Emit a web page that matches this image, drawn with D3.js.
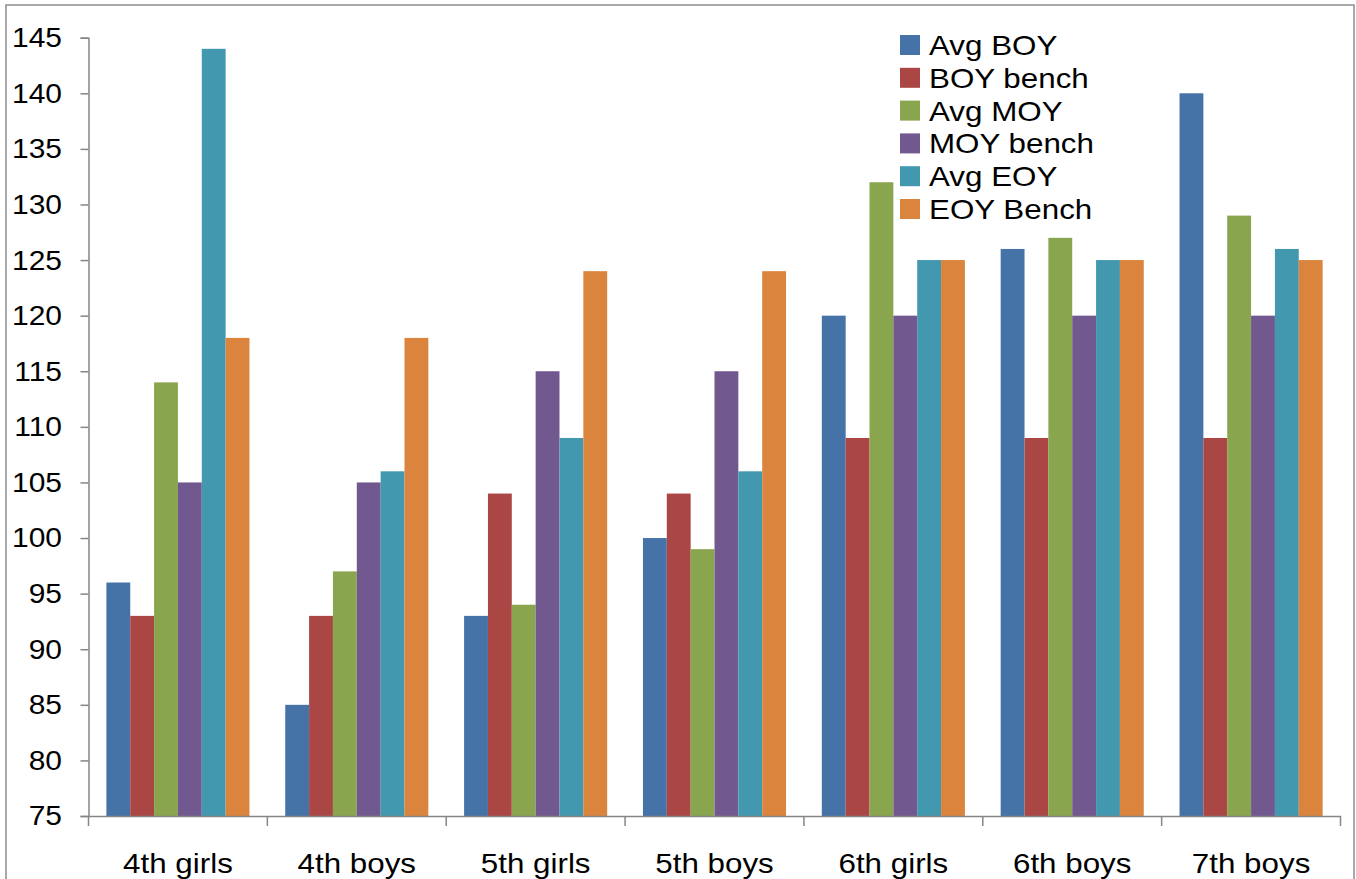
<!DOCTYPE html>
<html>
<head>
<meta charset="utf-8">
<script src="https://cdn.jsdelivr.net/npm/d3@7"></script>
<style>
  body { margin: 0; background: #fff; }
  svg { display: block; font-family: "Liberation Sans", Arial, sans-serif; }
</style>
</head>
<body>
<div id="chart"></div>
<script>
// chart data
const categories = ["4th girls", "4th boys", "5th girls", "5th boys", "6th girls", "6th boys", "7th boys"];
const seriesNames = ["Avg BOY", "BOY bench", "Avg MOY", "MOY bench", "Avg EOY", "EOY Bench"];
const avgBOY   = [96, 85, 93, 100, 120, 126, 140];
const boyBench = [93, 93, 104, 104, 109, 109, 109];
const avgMOY   = [114, 97, 94, 99, 132, 127, 129];
const moyBench = [105, 105, 115, 115, 120, 120, 120];
const avgEOY   = [144, 106, 109, 106, 125, 125, 126];
const eoyBench = [118, 118, 124, 124, 125, 125, 125];
const yTicks = [75, 80, 85, 90, 95, 100, 105, 110, 115, 120, 125, 130, 135, 140, 145];

const colors = ["#4572A7", "#AA4643", "#89A54E", "#71588F", "#4198AF", "#DB843D"];
const seriesValues = [avgBOY, boyBench, avgMOY, moyBench, avgEOY, eoyBench];

const W = 1356, H = 879;
const plot = {left: 88.5, right: 1340.5, top: 37.7, bottom: 816};
const fontSize = "28px";
const stretch = 1.12;      // the text in the original is a little wider than Arial
const tickStretch = 1.07;  // digits a bit less so

const svg = d3.select("#chart").append("svg")
    .attr("width", W)
    .attr("height", H);

// outer frame
svg.append("rect")
    .attr("x", 6).attr("y", 5)
    .attr("width", 1348).attr("height", H)
    .attr("fill", "none")
    .attr("stroke", "#8c8c8c")
    .attr("stroke-width", 1.5);

const x = d3.scaleBand()
    .domain(categories)
    .range([plot.left, plot.right]);

// gap width 150% -> each bar is band / 7.5
const barW = x.bandwidth() / 7.5;
const x1 = d3.scaleBand()
    .domain(seriesNames)
    .range([barW * 0.75, x.bandwidth() - barW * 0.75]);

const y = d3.scaleLinear()
    .domain([75, 145])
    .range([plot.bottom, plot.top]);

// bars
const groups = svg.append("g").selectAll("g")
    .data(categories)
    .join("g")
    .attr("transform", d => `translate(${x(d)},0)`);

groups.selectAll("rect")
    .data((c, i) => seriesNames.map((s, j) => ({series: s, value: seriesValues[j][i], color: colors[j]})))
    .join("rect")
    .attr("x", d => x1(d.series))
    .attr("width", x1.bandwidth())
    .attr("y", d => y(d.value))
    .attr("height", d => y(75) - y(d.value))
    .attr("fill", d => d.color);

// y axis
const yAxis = d3.axisLeft(y)
    .tickValues(yTicks)
    .tickSize(8)
    .tickPadding(16.8);

const yg = svg.append("g")
    .attr("transform", `translate(${plot.left},0)`)
    .call(yAxis);
yg.select(".domain").attr("stroke", "#868686").attr("stroke-width", 1.5);
yg.selectAll(".tick line").attr("stroke", "#868686").attr("stroke-width", 1.5);
yg.selectAll(".tick text")
    .attr("fill", "#000")
    .attr("transform", `scale(${tickStretch},1)`)
    .style("font-size", fontSize)
    .style("font-family", "'Liberation Sans', Arial, sans-serif");

// x axis
const xg = svg.append("g")
    .attr("transform", `translate(0,${plot.bottom})`)
    .call(d3.axisBottom(x).tickSize(0).tickPadding(37).tickSizeOuter(0));
xg.select(".domain").attr("stroke", "#868686").attr("stroke-width", 1.5);
xg.selectAll(".tick text")
    .attr("fill", "#000")
    .attr("transform", `scale(${stretch},1)`)
    .style("font-size", fontSize)
    .style("font-family", "'Liberation Sans', Arial, sans-serif");

// category separators
const bounds = categories.map(c => x(c)).concat([plot.right]);
xg.selectAll(".sep")
    .data(bounds)
    .join("line")
    .attr("class", "sep")
    .attr("x1", d => d).attr("x2", d => d)
    .attr("y1", 0).attr("y2", 10)
    .attr("stroke", "#868686")
    .attr("stroke-width", 1.5);

// legend
const legend = svg.append("g")
    .attr("transform", "translate(900,35)");

const item = legend.selectAll("g")
    .data(seriesNames)
    .join("g")
    .attr("transform", (d, i) => `translate(0,${i * 32.8})`);

item.append("rect")
    .attr("width", 20).attr("height", 20)
    .attr("fill", (d, i) => colors[i]);

item.append("text")
    .attr("transform", `translate(29,20) scale(${stretch},1)`)
    .style("font-size", fontSize)
    .attr("fill", "#000")
    .text(d => d);
</script>
</body>
</html>
